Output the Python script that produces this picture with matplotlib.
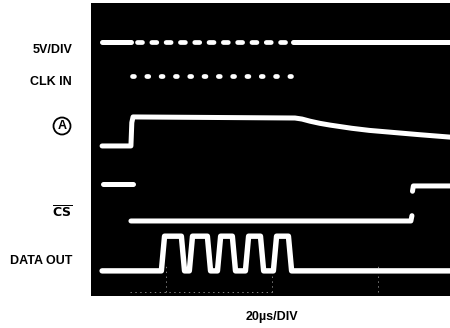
import matplotlib
matplotlib.use("Agg")
import matplotlib.pyplot as plt

# scope screen: 20us/DIV horizontally, vertical positions read in divisions
t_min, t_max = -2.26, 200.6
v_min, v_max = 0.0, 8.28

# 5V/DIV reference trace: solid, chopped while clocking, solid again
ref_level = 7.18
ref_solid1 = [4.0, 20.3]
ref_chop = [23.8, 109.5]
ref_solid2 = [111.8, 200.6]

# CLK IN bursts
clk_level = 6.21
clk_span = [21.0, 110.5]

# node A: step up when CS goes low, then slow droop
a_t = [4.0, 20.3, 20.8, 21.5, 113.0, 117.0, 121.5, 127.0, 132.8, 145.0, 155.0, 166.7, 183.0, 200.6]
a_v = [4.24, 4.24, 4.90, 5.06, 5.03, 5.00, 4.94, 4.88, 4.83, 4.74, 4.68, 4.63, 4.56, 4.49]

# CS (active low)
cs_high, cs_low = 3.16, 2.12
cs_first_high = [4.5, 21.5]
cs_low_span = [20.3, 178.5]
cs_back_high = [179.4, 200.6]
cs_back_level = 3.11

# DATA OUT pulses
data_low, data_high = 0.71, 1.69
data_start, data_end = 4.0, 200.6
data_rise = [38.4, 54.2, 70.1, 85.9, 101.7]
data_fall = [49.7, 64.4, 78.5, 94.4, 110.2]
edge = 0.9

plt.rcParams['lines.scale_dashes'] = False
plt.rcParams['mathtext.fontset'] = 'custom'
plt.rcParams['mathtext.rm'] = 'Liberation Sans Narrow:bold'

W, H = 450, 328
fig = plt.figure(figsize=(W / 100, H / 100), dpi=100)
ax = fig.add_axes([91 / W, 32 / H, 359 / W, 293 / H])
ax.set_facecolor('black')
ax.set_xlim(t_min, t_max)
ax.set_ylim(v_min, v_max)
ax.set_xticks([])
ax.set_yticks([])
for s in ax.spines.values():
    s.set_visible(False)

lw = 3.6
trace = dict(color='white', lw=lw, solid_capstyle='round', solid_joinstyle='round')

# faint graticule marks
grat = dict(color='white', lw=0.6, ls=(0, (1, 2.5)), alpha=0.6)
ax.plot([20, 100], [0.1, 0.1], **grat)
for tg in [40, 100, 160]:
    ax.plot([tg, tg], [0.1, 0.9], **grat)

# 5V/DIV
ax.plot(ref_solid1, [ref_level] * 2, **trace)
ax.plot(ref_solid2, [ref_level] * 2, **trace)
ax.plot(ref_chop, [ref_level] * 2, color='white', lw=3.4,
        ls=(0, (3.6, 6.7)), dash_capstyle='round')

# CLK IN
ax.plot(clk_span, [clk_level] * 2, color='white', lw=3.4,
        ls=(0, (1.4, 8.9)), dash_capstyle='round')

# A
ax.plot(a_t, a_v, **trace)

# CS
ax.plot(cs_first_high, [cs_high] * 2, **trace)
ax.plot(cs_low_span + [cs_low_span[1] + 0.6], [cs_low, cs_low, cs_low + 0.15], **trace)
ax.plot([cs_back_high[0], cs_back_high[0] + 0.5, cs_back_high[1]],
        [cs_back_level - 0.15, cs_back_level, cs_back_level], **trace)

# DATA OUT
dt, dv = [data_start], [data_low]
for r, f in zip(data_rise, data_fall):
    dt += [r - edge, r + edge, f - edge, f + edge]
    dv += [data_low, data_high, data_high, data_low]
dt.append(data_end)
dv.append(data_low)
ax.plot(dt, dv, color='white', lw=3.9, solid_capstyle='round', solid_joinstyle='round')

# labels
lab = dict(family=['Liberation Sans Narrow', 'Liberation Sans', 'DejaVu Sans'],
           weight='bold', fontsize=9, color='black', va='center')
fig.text(73 / W, 1 - 50 / H, '5V/DIV', ha='right', **lab)
fig.text(72 / W, 1 - 82 / H, 'CLK IN', ha='right', **lab)
fig.text(62 / W, 1 - 126 / H, 'A', ha='center',
         bbox=dict(boxstyle='circle,pad=0.2', fc='none', ec='black', lw=1.3), **lab)
fig.text(72 / W, 1 - 213 / H, r'$\overline{\mathrm{CS}}$', ha='right', **lab)
fig.text(72 / W, 1 - 261 / H, 'DATA OUT', ha='right', **lab)
fig.text(272 / W, 1 - 317 / H, '20\u00b5s/DIV', ha='center', **lab)

fig.savefig('out.png', dpi=100)
